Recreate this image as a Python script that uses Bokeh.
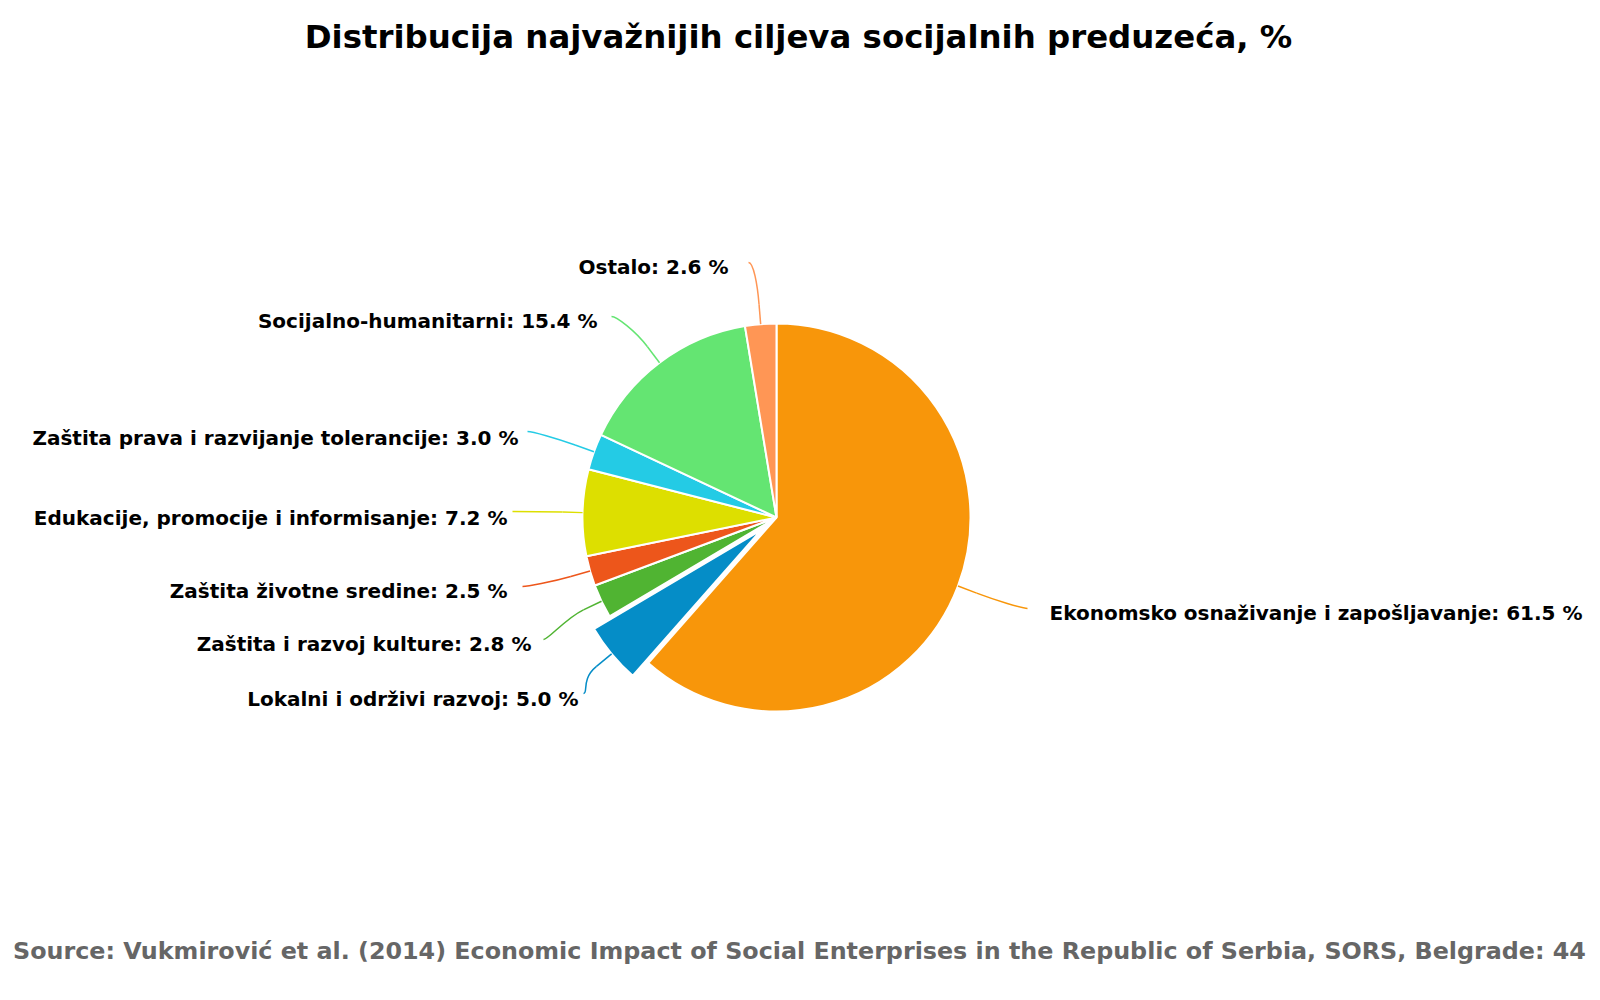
import math
from bokeh.plotting import figure
from bokeh.models import Range1d
from bokeh.embed import file_html
from bokeh.resources import INLINE
from bokeh.core.properties import value

# ---------------- data ----------------
categories = [
    "Ekonomsko osnaživanje i zapošljavanje",
    "Lokalni i održivi razvoj",
    "Zaštita i razvoj kulture",
    "Zaštita životne sredine",
    "Edukacije, promocije i informisanje",
    "Zaštita prava i razvijanje tolerancije",
    "Socijalno-humanitarni",
    "Ostalo",
]
shares = [61.5, 5.0, 2.8, 2.5, 7.2, 3.0, 15.4, 2.6]
sliced = [False, True, False, False, False, False, False, False]

title_text = "Distribucija najvažnijih ciljeva socijalnih preduzeća, %"
source_text = ("Source: Vukmirović et al. (2014) Economic Impact of Social Enterprises "
               "in the Republic of Serbia, SORS, Belgrade: 44")

# ---------------- styles / layout ----------------
colors = ["#F8960A", "#058DC7", "#50B432", "#ED561B", "#DDDF00", "#24CBE5", "#64E572", "#FF9655"]
W, H = 1600, 1000
PIE_X, PIE_Y = 776, 517    # pie centre (page px, y down)
R = 194                    # pie radius (px)
SLICE_OFFSET = 20
BREAK_OFFSET = 20
LABEL_FONT = "DejaVu Sans"
LABEL_SIZE = 20

# label layout in page pixels: (text anchor x, text centre y, connector start x, connector start y)
label_layout = [
    (1049, 612, 1027, 608),
    (578, 698, 583, 693),
    (531, 643, 543, 639),
    (507, 590, 522, 586),
    (507, 517, 512, 511),
    (518, 437, 527, 431),
    (597, 320, 611, 316),
    (728, 266, 748, 262),
]


def px(xp):
    return xp


def py(yp):
    return H - yp


CX, CY = px(PIE_X), py(PIE_Y)

p = figure(width=W, height=H, output_backend="svg", toolbar_location=None, title=None,
           x_range=Range1d(0, W), y_range=Range1d(0, H),
           x_axis_location=None, y_axis_location=None, min_border=0)
p.grid.visible = False
p.outline_line_color = None
p.background_fill_color = "white"
p.border_fill_color = "white"

total = sum(shares)
start = 0.0
wx, wy, sa, ea = [], [], [], []
conn = []
for i, v in enumerate(shares):
    span = 360.0 * v / total
    mid = math.radians(start + span / 2)
    dx, dy = math.sin(mid), math.cos(mid)
    off = SLICE_OFFSET if sliced[i] else 0
    cx, cy = CX + off * dx, CY + off * dy
    wx.append(cx)
    wy.append(cy)
    sa.append(math.pi / 2 - math.radians(start))
    ea.append(math.pi / 2 - math.radians(start + span))
    ex, ey = cx + R * dx, cy + R * dy
    bx, by = cx + (R + BREAK_OFFSET) * dx, cy + (R + BREAK_OFFSET) * dy
    conn.append((ex, ey, bx, by))
    start += span

p.wedge(x=wx, y=wy, radius=R, start_angle=sa, end_angle=ea, direction="clock",
        fill_color=colors, line_color="white", line_width=2)

# connectors and labels
for i, (cat, v) in enumerate(zip(categories, shares)):
    tx, ty, sx, sy = label_layout[i]
    ex, ey, bx, by = conn[i]
    sxd, syd = px(sx), py(sy)
    right_side = px(tx) > CX
    c0x = sxd - 5 if right_side else sxd + 5
    p.bezier(x0=[sxd], y0=[syd], x1=[bx], y1=[by],
             cx0=[c0x], cy0=[syd], cx1=[2 * bx - ex], cy1=[2 * by - ey],
             line_color=colors[i], line_width=1.5)
    p.segment(x0=[bx], y0=[by], x1=[ex], y1=[ey], line_color=colors[i], line_width=1.5)
    p.text(x=[px(tx)], y=[py(ty)], text=[f"{cat}: {v:.1f} %"],
           text_font=value(LABEL_FONT), text_font_style="bold",
           text_font_size=f"{LABEL_SIZE}px", text_color="#000000",
           text_align="left" if right_side else "right", text_baseline="alphabetic")

# title and source
p.text(x=[px(798)], y=[py(36)], text=[title_text], text_font=value("DejaVu Sans"),
       text_font_style="bold", text_font_size="32.4px", text_color="#000000",
       text_align="center", text_baseline="alphabetic")
p.text(x=[px(799)], y=[py(950)], text=[source_text], text_font=value("DejaVu Sans"),
       text_font_style="bold", text_font_size="23.8px", text_color="#666666",
       text_align="center", text_baseline="alphabetic")

open("out.html", "w").write(file_html(p, INLINE))
